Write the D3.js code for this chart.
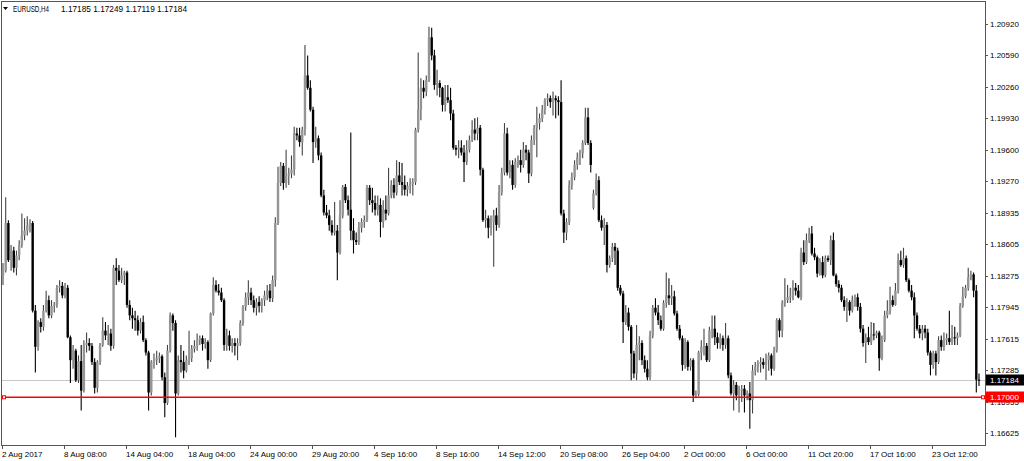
<!DOCTYPE html>
<html><head><meta charset="utf-8">
<script src="https://cdn.jsdelivr.net/npm/d3@7"></script>
<style>body{margin:0;background:#fff}svg{display:block}text{font-family:"Liberation Sans",Arial,sans-serif}</style>
</head><body><svg id="c" width="1024" height="461"></svg>
<script>
const symbol = "EURUSD,H4";
const titleValues = "1.17185 1.17249 1.17119 1.17184";
const open = [
1.1828,1.1833,1.1883,1.1844,1.1854,1.1836,1.1849,1.1860,1.1870,1.1875,
1.1880,1.1883,1.1791,1.1753,1.1779,1.1774,1.1791,1.1802,1.1786,1.1796,
1.1797,1.1815,1.1817,1.1807,1.1815,1.1763,1.1739,1.1749,1.1718,1.1738,
1.1707,1.1755,1.1757,1.1754,1.1737,1.1710,1.1737,1.1755,1.1770,1.1765,
1.1767,1.1754,1.1836,1.1833,1.1823,1.1828,1.1831,1.1797,1.1786,1.1783,
1.1781,1.1770,1.1779,1.1760,1.1747,1.1705,1.1737,1.1739,1.1741,1.1743,
1.1721,1.1694,1.1749,1.1786,1.1778,1.1704,1.1739,1.1737,1.1728,1.1739,
1.1741,1.1751,1.1754,1.1760,1.1762,1.1756,1.1758,1.1739,1.1788,1.1818,
1.1812,1.1810,1.1802,1.1755,1.1765,1.1754,1.1757,1.1754,1.1757,1.1778,
1.1795,1.1805,1.1810,1.1802,1.1794,1.1800,1.1796,1.1802,1.1807,1.1812,
1.1804,1.1823,1.1883,1.1925,1.1943,1.1925,1.1933,1.1935,1.1939,1.1977,
1.1975,1.1968,1.1981,1.2038,1.2025,1.2002,1.1968,1.1972,1.1954,1.1912,
1.1894,1.1891,1.1881,1.1873,1.1875,1.1852,1.1891,1.1921,1.1907,1.1897,
1.1875,1.1865,1.1863,1.1878,1.1884,1.1886,1.1920,1.1907,1.1904,1.1897,
1.1902,1.1884,1.1897,1.1893,1.1912,1.1923,1.1915,1.1933,1.1926,1.1923,
1.1918,1.1922,1.1924,1.1926,1.1981,1.2002,1.2025,1.2021,1.2033,1.2078,
1.2059,1.2028,1.2030,1.2025,1.2007,1.2015,1.2012,1.1998,1.1962,1.1960,
1.1962,1.1957,1.1947,1.1960,1.1970,1.1981,1.1977,1.1983,1.1939,1.1886,
1.1888,1.1878,1.1884,1.1891,1.1881,1.1915,1.1936,1.1977,1.1936,1.1944,
1.1923,1.1947,1.1949,1.1944,1.1960,1.1957,1.1935,1.1970,1.1983,1.1988,
1.1993,1.2002,1.2012,1.2014,1.2010,1.2014,1.2012,1.2010,1.1893,1.1873,
1.1884,1.1923,1.1931,1.1944,1.1952,1.1956,1.1967,1.1994,1.1967,1.1899,
1.1914,1.1928,1.1886,1.1878,1.1881,1.1839,1.1846,1.1858,1.1854,1.1815,
1.1809,1.1779,1.1789,1.1774,1.1746,1.1725,1.1755,1.1757,1.1739,1.1730,
1.1721,1.1765,1.1794,1.1789,1.1781,1.1772,1.1799,1.1807,1.1804,1.1806,
1.1788,1.1772,1.1762,1.1734,1.1758,1.1732,1.1739,1.1702,1.1703,1.1747,
1.1753,1.1754,1.1739,1.1770,1.1772,1.1763,1.1757,1.1762,1.1755,1.1762,
1.1723,1.1704,1.1713,1.1702,1.1707,1.1709,1.1702,1.1704,1.1697,1.1728,
1.1732,1.1735,1.1737,1.1734,1.1739,1.1744,1.1730,1.1749,1.1781,1.1770,
1.1799,1.1802,1.1805,1.1807,1.1815,1.1812,1.1805,1.1852,1.1842,1.1865,
1.1872,1.1851,1.1847,1.1830,1.1842,1.1828,1.1846,1.1844,1.1865,1.1828,
1.1819,1.1815,1.1802,1.1795,1.1800,1.1791,1.1802,1.1805,1.1795,1.1772,
1.1757,1.1763,1.1758,1.1766,1.1765,1.1768,1.1741,1.1760,1.1786,1.1791,
1.1802,1.1797,1.1812,1.1844,1.1839,1.1846,1.1823,1.1812,1.1805,1.1786,
1.1772,1.1767,1.1772,1.1768,1.1747,1.1734,1.1746,1.1737,1.1760,1.1753,
1.1760,1.1762,1.1758,1.1763,1.1762,1.1765,1.1796,1.1806,1.1815,1.1826,
1.1829,1.1812,1.17185];
const high = [
1.1841,1.1910,1.1886,1.1860,1.1858,1.1854,1.1865,1.1893,1.1888,1.1890,
1.1887,1.1885,1.1797,1.1781,1.1783,1.1797,1.1812,1.1807,1.1802,1.1800,
1.1818,1.1823,1.1821,1.1820,1.1818,1.1765,1.1755,1.1751,1.1744,1.1755,
1.1760,1.1768,1.1762,1.1757,1.1741,1.1739,1.1757,1.1784,1.1779,1.1776,
1.1772,1.1839,1.1846,1.1839,1.1836,1.1833,1.1833,1.1802,1.1794,1.1791,
1.1786,1.1783,1.1786,1.1762,1.1749,1.1739,1.1746,1.1749,1.1747,1.1745,
1.1726,1.1755,1.1789,1.1788,1.1781,1.1744,1.1755,1.1749,1.1744,1.1770,
1.1755,1.1760,1.1767,1.1765,1.1765,1.1762,1.1760,1.1789,1.1826,1.1823,
1.1819,1.1815,1.1804,1.1772,1.1770,1.1762,1.1762,1.1762,1.1781,1.1797,
1.1810,1.1823,1.1815,1.1807,1.1804,1.1806,1.1804,1.1812,1.1818,1.1819,
1.1828,1.1889,1.1942,1.1947,1.1946,1.1960,1.1941,1.1954,1.1984,1.1983,
1.1983,1.1984,1.2070,1.2059,1.2033,1.2005,1.1984,1.1975,1.1957,1.1918,
1.1902,1.1897,1.1886,1.1905,1.1881,1.1907,1.1923,1.1924,1.1912,1.1978,
1.1888,1.1873,1.1884,1.1888,1.1891,1.1923,1.1923,1.1920,1.1912,1.1912,
1.1909,1.1907,1.1912,1.1941,1.1928,1.1930,1.1949,1.1947,1.1946,1.1933,
1.1926,1.1930,1.1930,1.1983,1.2062,1.2035,1.2033,1.2038,1.2089,1.2088,
1.2065,1.2044,1.2033,1.2026,1.2028,1.2028,1.2025,1.2002,1.1965,1.1970,
1.1970,1.1965,1.1970,1.1975,1.1991,1.1993,1.1994,1.1986,1.1941,1.1897,
1.1891,1.1891,1.1897,1.1899,1.1923,1.1941,1.1988,1.1983,1.1949,1.1949,
1.1951,1.1954,1.1960,1.1968,1.1965,1.1960,1.1975,1.1986,1.2005,1.1998,
1.2007,1.2014,1.2019,1.2017,1.2021,1.2017,1.2016,1.2033,1.1897,1.1888,
1.1928,1.1936,1.1949,1.1957,1.1960,1.1970,1.2004,1.2004,1.1970,1.1918,
1.1935,1.1932,1.1891,1.1888,1.1884,1.1849,1.1862,1.1862,1.1857,1.1818,
1.1812,1.1797,1.1794,1.1776,1.1749,1.1776,1.1764,1.1760,1.1744,1.1739,
1.1770,1.1797,1.1804,1.1797,1.1786,1.1802,1.1831,1.1825,1.1818,1.1812,
1.1791,1.1776,1.1765,1.1762,1.1760,1.1741,1.1741,1.1707,1.1749,1.1760,
1.1772,1.1757,1.1774,1.1786,1.1786,1.1768,1.1767,1.1765,1.1778,1.1765,
1.1726,1.1718,1.1716,1.1712,1.1713,1.1713,1.1707,1.1716,1.1734,1.1737,
1.1739,1.1742,1.1741,1.1746,1.1747,1.1746,1.1753,1.1783,1.1783,1.1802,
1.1825,1.1818,1.1815,1.1823,1.1820,1.1818,1.1857,1.1865,1.1872,1.1878,
1.1880,1.1857,1.1849,1.1846,1.1848,1.1849,1.1849,1.1870,1.1873,1.1830,
1.1823,1.1818,1.1806,1.1804,1.1802,1.1807,1.1808,1.1809,1.1799,1.1776,
1.1767,1.1774,1.1779,1.1778,1.1770,1.1770,1.1765,1.1791,1.1802,1.1816,
1.1807,1.1820,1.1851,1.1854,1.1857,1.1849,1.1825,1.1818,1.1810,1.1789,
1.1776,1.1776,1.1776,1.1772,1.1749,1.1749,1.1749,1.1764,1.1765,1.1768,
1.1767,1.1791,1.1776,1.1774,1.1768,1.1799,1.1816,1.1818,1.1836,1.1833,
1.1831,1.1818,1.17249];
const low = [
1.1818,1.1831,1.1842,1.1833,1.1831,1.1828,1.1844,1.1857,1.1865,1.1870,
1.1873,1.1789,1.1726,1.1749,1.1768,1.1770,1.1789,1.1783,1.1783,1.1789,
1.1794,1.1810,1.1804,1.1804,1.1762,1.1715,1.1730,1.1716,1.1715,1.1686,
1.1705,1.1747,1.1749,1.1734,1.1704,1.1705,1.1734,1.1753,1.1760,1.1755,
1.1749,1.1751,1.1818,1.1821,1.1820,1.1818,1.1794,1.1781,1.1772,1.1770,
1.1765,1.1767,1.1758,1.1744,1.1686,1.1702,1.1730,1.1734,1.1736,1.1718,
1.1679,1.1692,1.1747,1.1770,1.1658,1.1702,1.1726,1.1720,1.1726,1.1734,
1.1737,1.1747,1.1749,1.1755,1.1749,1.1751,1.1730,1.1737,1.1786,1.1810,
1.1807,1.1800,1.1749,1.1749,1.1749,1.1747,1.1744,1.1739,1.1754,1.1775,
1.1791,1.1797,1.1797,1.1789,1.1786,1.1789,1.1789,1.1796,1.1802,1.1800,
1.1800,1.1816,1.1881,1.1922,1.1918,1.1920,1.1923,1.1930,1.1933,1.1970,
1.1963,1.1954,1.1975,1.2023,1.2000,1.1946,1.1962,1.1949,1.1910,1.1891,
1.1888,1.1875,1.1870,1.1870,1.1823,1.1850,1.1888,1.1904,1.1891,1.1865,
1.1851,1.1860,1.1860,1.1873,1.1878,1.1884,1.1902,1.1894,1.1891,1.1891,
1.1868,1.1878,1.1886,1.1891,1.1909,1.1909,1.1912,1.1923,1.1912,1.1912,
1.1911,1.1914,1.1912,1.1923,1.1978,1.1991,1.2014,1.2016,1.2031,1.2054,
1.2023,1.2017,1.2015,1.2000,1.2000,1.2009,1.1991,1.1960,1.1954,1.1951,
1.1954,1.1926,1.1944,1.1957,1.1968,1.1970,1.1970,1.1933,1.1884,1.1878,
1.1867,1.1870,1.1837,1.1875,1.1878,1.1912,1.1933,1.1933,1.1930,1.1918,
1.1920,1.1941,1.1936,1.1941,1.1949,1.1925,1.1932,1.1965,1.1952,1.1981,
1.1989,1.1997,1.2006,1.2004,1.1996,1.1993,1.1996,1.1891,1.1862,1.1865,
1.1881,1.1918,1.1928,1.1939,1.1944,1.1951,1.1965,1.1965,1.1936,1.1897,
1.1912,1.1884,1.1875,1.1860,1.1831,1.1836,1.1842,1.1839,1.1812,1.1807,
1.1757,1.1776,1.1770,1.1718,1.1720,1.1718,1.1739,1.1734,1.1726,1.1718,
1.1718,1.1762,1.1786,1.1776,1.1770,1.1770,1.1794,1.1797,1.1797,1.1786,
1.1770,1.1760,1.1728,1.1730,1.1728,1.1728,1.1695,1.1699,1.1701,1.1739,
1.1744,1.1737,1.1737,1.1762,1.1755,1.1751,1.1751,1.1749,1.1751,1.1720,
1.1702,1.1686,1.1697,1.1684,1.1695,1.1684,1.1697,1.1667,1.1683,1.1723,
1.1726,1.1726,1.1730,1.1718,1.1728,1.1723,1.1728,1.1747,1.1763,1.1763,
1.1795,1.1799,1.1799,1.1802,1.1807,1.1804,1.1802,1.1839,1.1840,1.1862,
1.1849,1.1844,1.1826,1.1828,1.1825,1.1826,1.1842,1.1839,1.1827,1.1816,
1.1810,1.1800,1.1791,1.1779,1.1786,1.1789,1.1795,1.1791,1.1768,1.1753,
1.1736,1.1755,1.1755,1.1760,1.1762,1.1728,1.1739,1.1758,1.1783,1.1787,
1.1795,1.1796,1.1809,1.1837,1.1836,1.1821,1.1810,1.1802,1.1762,1.1770,
1.1762,1.1760,1.1762,1.1744,1.1723,1.1730,1.1723,1.1735,1.1749,1.1749,
1.1755,1.1755,1.1755,1.1755,1.1755,1.1763,1.1794,1.1804,1.1812,1.1823,
1.1805,1.1705,1.17119];
const close = [
1.1833,1.1883,1.1844,1.1854,1.1836,1.1849,1.1860,1.1870,1.1875,1.1880,
1.1883,1.1791,1.1753,1.1779,1.1774,1.1791,1.1802,1.1786,1.1796,1.1797,
1.1815,1.1817,1.1807,1.1815,1.1763,1.1739,1.1749,1.1718,1.1738,1.1707,
1.1755,1.1757,1.1754,1.1737,1.1710,1.1737,1.1755,1.1770,1.1765,1.1767,
1.1754,1.1836,1.1833,1.1823,1.1828,1.1831,1.1797,1.1786,1.1783,1.1781,
1.1770,1.1779,1.1760,1.1747,1.1705,1.1737,1.1739,1.1741,1.1743,1.1721,
1.1694,1.1749,1.1786,1.1778,1.1704,1.1739,1.1737,1.1728,1.1739,1.1741,
1.1751,1.1754,1.1760,1.1762,1.1756,1.1758,1.1739,1.1788,1.1818,1.1812,
1.1810,1.1802,1.1755,1.1765,1.1754,1.1757,1.1754,1.1757,1.1778,1.1795,
1.1805,1.1810,1.1802,1.1794,1.1800,1.1796,1.1802,1.1807,1.1812,1.1804,
1.1823,1.1883,1.1925,1.1943,1.1925,1.1933,1.1935,1.1939,1.1977,1.1975,
1.1968,1.1981,1.2038,1.2025,1.2002,1.1968,1.1972,1.1954,1.1912,1.1894,
1.1891,1.1881,1.1873,1.1875,1.1852,1.1891,1.1921,1.1907,1.1897,1.1875,
1.1865,1.1863,1.1878,1.1884,1.1886,1.1920,1.1907,1.1904,1.1897,1.1902,
1.1884,1.1897,1.1893,1.1912,1.1923,1.1915,1.1933,1.1926,1.1923,1.1918,
1.1922,1.1924,1.1926,1.1981,1.2002,1.2025,1.2021,1.2033,1.2078,1.2059,
1.2028,1.2030,1.2025,1.2007,1.2015,1.2012,1.1998,1.1962,1.1960,1.1962,
1.1957,1.1947,1.1960,1.1970,1.1981,1.1977,1.1983,1.1939,1.1886,1.1888,
1.1878,1.1884,1.1891,1.1881,1.1915,1.1936,1.1977,1.1936,1.1944,1.1923,
1.1947,1.1949,1.1944,1.1960,1.1957,1.1935,1.1970,1.1983,1.1988,1.1993,
1.2002,1.2012,1.2014,1.2010,1.2014,1.2012,1.2010,1.1893,1.1873,1.1884,
1.1923,1.1931,1.1944,1.1952,1.1956,1.1967,1.1994,1.1967,1.1944,1.1914,
1.1928,1.1886,1.1878,1.1881,1.1839,1.1846,1.1858,1.1854,1.1815,1.1809,
1.1779,1.1789,1.1774,1.1746,1.1725,1.1755,1.1757,1.1739,1.1730,1.1721,
1.1765,1.1794,1.1789,1.1781,1.1772,1.1799,1.1807,1.1804,1.1806,1.1788,
1.1772,1.1762,1.1734,1.1758,1.1732,1.1739,1.1702,1.1703,1.1747,1.1753,
1.1754,1.1739,1.1770,1.1772,1.1763,1.1757,1.1762,1.1755,1.1762,1.1723,
1.1704,1.1713,1.1702,1.1707,1.1709,1.1702,1.1704,1.1697,1.1728,1.1732,
1.1735,1.1737,1.1734,1.1739,1.1744,1.1730,1.1749,1.1781,1.1770,1.1799,
1.1802,1.1805,1.1807,1.1815,1.1812,1.1805,1.1852,1.1842,1.1865,1.1872,
1.1851,1.1847,1.1830,1.1842,1.1828,1.1846,1.1844,1.1865,1.1828,1.1819,
1.1815,1.1802,1.1795,1.1800,1.1791,1.1802,1.1805,1.1795,1.1772,1.1757,
1.1763,1.1758,1.1766,1.1765,1.1768,1.1741,1.1760,1.1786,1.1791,1.1802,
1.1797,1.1812,1.1844,1.1839,1.1846,1.1823,1.1812,1.1805,1.1786,1.1772,
1.1767,1.1772,1.1768,1.1747,1.1734,1.1746,1.1737,1.1760,1.1753,1.1760,
1.1762,1.1758,1.1763,1.1762,1.1765,1.1796,1.1806,1.1815,1.1826,1.1829,
1.1812,1.17185,1.17184];
const yTicks = [1.20920,1.20590,1.20260,1.19930,1.19600,1.19270,1.18935,1.18605,1.18275,1.17945,1.17615,1.17285,1.16955,1.16625];
const xTickIndex = [0,23,46,69,92,115,138,161,184,207,230,253,276,299,322,345];
const xTickLabels = ["2 Aug 2017","8 Aug 08:00","14 Aug 04:00","18 Aug 04:00","24 Aug 00:00","29 Aug 20:00","4 Sep 16:00","8 Sep 16:00","14 Sep 12:00","20 Sep 08:00","26 Sep 04:00","2 Oct 00:00","6 Oct 00:00","11 Oct 20:00","17 Oct 16:00","23 Oct 12:00"];
const bidPrice = 1.17184;
const levelPrice = 1.17000;

const svg = d3.select("#c");
const N = close.length;
const L = 1, R = 985, T = 1, B = 445;
const x = d3.scaleLinear().domain([0, N - 1]).range([3, 979]);
const y = d3.scaleLinear().domain([1.16625, 1.20920]).range([433, 24]);

// frame
svg.append("rect").attr("x", L + 0.5).attr("y", T + 0.5).attr("width", R - L).attr("height", B - T)
  .attr("fill", "#fff").attr("stroke", "#555").attr("stroke-width", 1);

// bid line
svg.append("line").attr("x1", L + 1).attr("x2", R).attr("y1", Math.round(y(bidPrice)) + 0.5).attr("y2", Math.round(y(bidPrice)) + 0.5)
  .attr("stroke", "#c8c8c8").attr("stroke-width", 1);

// candles
const idx = d3.range(N);
const g = svg.append("g");
g.selectAll("line.w").data(idx).join("line").attr("class", "w")
  .attr("x1", i => x(i)).attr("x2", i => x(i))
  .attr("y1", i => y(high[i])).attr("y2", i => y(low[i]))
  .attr("stroke", i => close[i] >= open[i] ? "#444" : "#000").attr("stroke-width", 1.1);
g.selectAll("rect.b").data(idx).join("rect").attr("class", "b")
  .attr("x", i => x(i) - 1.2).attr("width", 2.4)
  .attr("y", i => y(Math.max(open[i], close[i])))
  .attr("height", i => Math.max(1, Math.abs(y(open[i]) - y(close[i]))))
  .attr("fill", i => close[i] >= open[i] ? "#959595" : "#000");

// red level line
const ly = y(levelPrice);
svg.append("line").attr("x1", L + 1).attr("x2", R).attr("y1", ly).attr("y2", ly).attr("stroke", "#ff0000").attr("stroke-width", 1.6);
svg.append("rect").attr("x", 2.5).attr("y", ly - 1.5).attr("width", 3).attr("height", 3).attr("fill", "#fff").attr("stroke", "#ff0000");
svg.append("rect").attr("x", R - 3.5).attr("y", ly - 1.5).attr("width", 3).attr("height", 3).attr("fill", "#fff").attr("stroke", "#ff0000");

// y axis
const ya = svg.append("g");
ya.selectAll("line").data(yTicks).join("line")
  .attr("x1", R).attr("x2", R + 3).attr("y1", d => Math.round(y(d)) + 0.5).attr("y2", d => Math.round(y(d)) + 0.5)
  .attr("stroke", "#555");
ya.selectAll("text").data(yTicks).join("text")
  .attr("x", 990).attr("y", d => y(d) + 3).attr("font-size", 8).attr("fill", "#000")
  .text(d => d.toFixed(5));

// x axis
const xa = svg.append("g");
xa.selectAll("line").data(xTickIndex).join("line")
  .attr("x1", i => Math.round(x(i)) - 0.5).attr("x2", i => Math.round(x(i)) - 0.5).attr("y1", B).attr("y2", B + 4)
  .attr("stroke", "#555");
xa.selectAll("text").data(xTickIndex).join("text")
  .attr("x", i => Math.round(x(i)) - 1).attr("y", 456.5).attr("font-size", 8).attr("fill", "#000")
  .text((d, k) => xTickLabels[k]);

// price labels
function priceLabel(p, color) {
  const cy = y(p);
  svg.append("rect").attr("x", 986).attr("y", Math.round(cy) - 5.5).attr("width", 38).attr("height", 11).attr("fill", color);
  svg.append("text").attr("x", 990).attr("y", cy + 3).attr("font-size", 8).attr("fill", "#fff").text(p.toFixed(5));
}
priceLabel(bidPrice, "#000");
priceLabel(levelPrice, "#ff0000");

// title
svg.append("path").attr("d", "M3,7 L8,7 L5.5,10 Z").attr("fill", "#000");
svg.append("text").attr("x", 13).attr("y", 11.5).attr("font-size", 8.2).attr("fill", "#000")
  .attr("textLength", 36).attr("lengthAdjust", "spacingAndGlyphs").text(symbol);
svg.append("text").attr("x", 61).attr("y", 11.5).attr("font-size", 8.2).attr("fill", "#000")
  .attr("textLength", 126).attr("lengthAdjust", "spacingAndGlyphs").text(titleValues);
</script></body></html>
